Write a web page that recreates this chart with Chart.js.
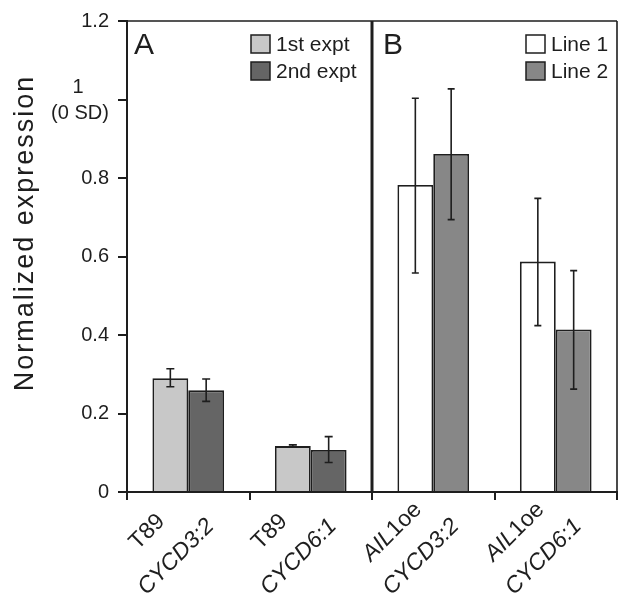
<!DOCTYPE html>
<html>
<head>
<meta charset="utf-8">
<script src="https://cdn.jsdelivr.net/npm/chart.js@4/dist/chart.umd.min.js"></script>
<style>
  body { margin: 0; background: #fff; }
  #wrap { width: 621px; height: 598px; position: relative; }
</style>
</head>
<body>
<div id="wrap"><canvas id="chart"></canvas></div>
<script>
// data
const categories = ["T89 CYCD3:2", "T89 CYCD6:1", "AIL1oe CYCD3:2", "AIL1oe CYCD6:1"];
const labelLine1 = [[["T89", false]], [["T89", false]], [["AIL", true], ["1oe", false]], [["AIL", true], ["1oe", false]]];
const labelLine2 = [[["CYCD3:2", true]], [["CYCD6:1", true]], [["CYCD3:2", true]], [["CYCD6:1", true]]];

const firstValues = [0.290, 0.117, 0.782, 0.587];
const firstLow = [0.268, 0.114, 0.558, 0.424];
const firstHigh = [0.314, 0.120, 1.003, 0.748];

const secondValues = [0.259, 0.107, 0.861, 0.414];
const secondLow = [0.231, 0.075, 0.694, 0.262];
const secondHigh = [0.288, 0.141, 1.027, 0.564];

const yTickLabels = ["0", "0.2", "0.4", "0.6", "0.8", "1", "1.2"];
const legendA = ["1st expt", "2nd expt"];
const legendB = ["Line 1", "Line 2"];

const FONT = "'Liberation Sans', Arial, Helvetica, sans-serif";
const INK = "#1e1e1e";
const colA1 = "#c8c8c8", colA2 = "#656565", colB1 = "#ffffff", colB2 = "#878787";

const errLow = [firstLow, secondLow];
const errHigh = [firstHigh, secondHigh];

function drawMixed(ctx, segs, size) {
  let total = 0;
  segs.forEach(([t, it]) => {
    ctx.font = (it ? "italic " : "") + size + "px " + FONT;
    total += ctx.measureText(t).width;
  });
  let x = -total / 2;
  segs.forEach(([t, it]) => {
    ctx.font = (it ? "italic " : "") + size + "px " + FONT;
    ctx.fillText(t, x, 0);
    x += ctx.measureText(t).width;
  });
}

const extras = {
  id: "extras",
  afterDatasetsDraw(chart) {
    const ctx = chart.ctx;
    const y = chart.scales.y;
    ctx.save();
    ctx.strokeStyle = INK;
    ctx.lineWidth = 1.6;
    chart.data.datasets.forEach((ds, d) => {
      const meta = chart.getDatasetMeta(d);
      meta.data.forEach((bar, i) => {
        const x = bar.x;
        const yt = y.getPixelForValue(errHigh[d][i]);
        const yb = y.getPixelForValue(errLow[d][i]);
        const cap = i < 2 ? 4 : 3.5;
        ctx.beginPath();
        ctx.moveTo(x, yt); ctx.lineTo(x, yb);
        ctx.moveTo(x - cap, yt); ctx.lineTo(x + cap, yt);
        ctx.moveTo(x - cap, yb); ctx.lineTo(x + cap, yb);
        ctx.stroke();
      });
    });
    ctx.restore();
  },
  afterDraw(chart) {
    const ctx = chart.ctx;
    const a = chart.chartArea;
    const xs = chart.scales.x;
    const ys = chart.scales.y;
    const div = xs.getPixelForValue(1.5);
    ctx.save();
    // frame: top, right, divider
    ctx.strokeStyle = INK;
    ctx.lineWidth = 1.6;
    ctx.beginPath();
    ctx.moveTo(a.left - 9, a.top); ctx.lineTo(a.right, a.top);
    ctx.moveTo(a.right, a.top); ctx.lineTo(a.right, a.bottom);
    ctx.stroke();
    ctx.lineWidth = 3;
    ctx.beginPath();
    ctx.moveTo(div, a.top); ctx.lineTo(div, a.bottom + 1);
    ctx.stroke();

    ctx.fillStyle = INK;
    // panel letters
    ctx.font = "30px " + FONT;
    ctx.textBaseline = "alphabetic";
    ctx.textAlign = "left";
    ctx.fillText("A", a.left + 7, a.top + 33);
    ctx.fillText("B", div + 11, a.top + 33);

    // legends
    const legs = [
      { x: div - 121, labels: legendA, cols: [colA1, colA2] },
      { x: a.right - 91, labels: legendB, cols: [colB1, colB2] }
    ];
    ctx.font = "21px " + FONT;
    legs.forEach(l => {
      l.labels.forEach((t, k) => {
        const top = a.top + 14 + k * 27;
        ctx.fillStyle = l.cols[k];
        ctx.fillRect(l.x, top, 19, 18);
        ctx.strokeStyle = INK;
        ctx.lineWidth = 1.5;
        ctx.strokeRect(l.x, top, 19, 18);
        ctx.fillStyle = INK;
        ctx.textBaseline = "middle";
        ctx.fillText(t, l.x + 25, top + 10);
      });
    });

    // special y tick "1 (0 SD)"
    const y1 = ys.getPixelForValue(1);
    ctx.textAlign = "center";
    ctx.textBaseline = "middle";
    ctx.font = "20px " + FONT;
    ctx.fillText(yTickLabels[5], 78, y1 - 12);
    ctx.fillText("(0 SD)", 80, y1 + 14);

    // y title
    ctx.save();
    ctx.translate(26, 233);
    ctx.rotate(-Math.PI / 2);
    ctx.font = "27px " + FONT;
    ctx.letterSpacing = "2px";
    ctx.fillText("Normalized expression", 0, 0);
    ctx.restore();

    // x labels, rotated
    categories.forEach((c, i) => {
      const cx = xs.getPixelForValue(i);
      [[labelLine1[i], -41, 40], [labelLine2[i], -12, 65]].forEach(([segs, dx, dy]) => {
        ctx.save();
        ctx.translate(cx + dx, a.bottom + dy);
        ctx.rotate(-Math.PI / 4);
        ctx.textAlign = "left";
        drawMixed(ctx, segs, 23);
        ctx.restore();
      });
    });
    ctx.restore();
  }
};

new Chart(document.getElementById("chart"), {
  type: "bar",
  data: {
    labels: categories,
    datasets: [
      {
        label: "first",
        data: firstValues,
        backgroundColor: [colA1, colA1, colB1, colB1],
        borderColor: INK,
        borderWidth: 1.8,
        borderSkipped: "bottom"
      },
      {
        label: "second",
        data: secondValues,
        backgroundColor: [colA2, colA2, colB2, colB2],
        borderColor: INK,
        borderWidth: 1.8,
        borderSkipped: "bottom"
      }
    ]
  },
  options: {
    responsive: true,
    maintainAspectRatio: false,
    animation: false,
    layout: { padding: { left: 0, right: 4, top: 15, bottom: 0 } },
    datasets: { bar: { categoryPercentage: 0.585, barPercentage: 1.0 } },
    plugins: { legend: { display: false }, tooltip: { enabled: false } },
    scales: {
      x: {
        grid: { offset: true, drawOnChartArea: false, tickLength: 8, color: INK, lineWidth: 2 },
        border: { color: INK, width: 2 },
        ticks: { callback: () => "" },
        afterFit: s => { s.height = 106; }
      },
      y: {
        min: 0,
        max: 1.2,
        ticks: {
          stepSize: 0.2,
          color: INK,
          padding: 9,
          font: { size: 20, family: FONT },
          callback: (v, i) => (i === 5 ? "" : yTickLabels[i])
        },
        grid: { drawOnChartArea: false, tickLength: 9, color: INK, lineWidth: 2 },
        border: { color: INK, width: 2 },
        afterFit: s => { s.width = 127; }
      }
    }
  },
  plugins: [extras]
});
</script>
</body>
</html>
